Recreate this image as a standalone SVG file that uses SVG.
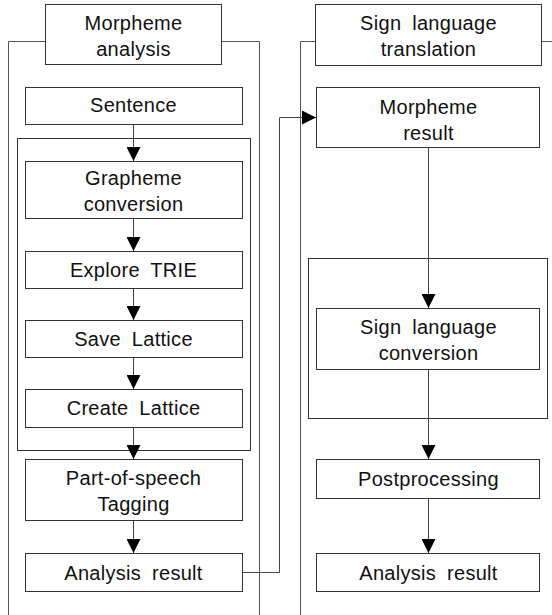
<svg xmlns="http://www.w3.org/2000/svg" width="552" height="615" viewBox="0 0 552 615">
<style>
.frame{fill:none;stroke:#555;stroke-width:1}
.box{fill:#fff;stroke:#333;stroke-width:1}
.grp{fill:none;stroke:#333;stroke-width:1}
.t{font-family:"Liberation Sans",Arial,sans-serif;font-size:20px;fill:#111;text-anchor:middle;letter-spacing:0.3px;word-spacing:5px}
.c{fill:none;stroke:#444;stroke-width:1}
</style>
<defs>
<marker id="ah" markerUnits="userSpaceOnUse" markerWidth="14" markerHeight="14" viewBox="0 0 14 14" refX="14" refY="7" orient="auto">
<path d="M0,0 L14,7 L0,14 Z" fill="#000"/>
</marker>
</defs>
<rect width="552" height="615" fill="#fff"/>
<g id="frames">
<path class="frame" d="M45.5,41.5 H8.5 V615 M221.5,41.5 H259.5 V615"/>
<path class="frame" d="M315.5,41.5 H300.5 V615 M541.5,41.5 H552"/>
<rect class="grp" x="17.5" y="138.5" width="233" height="312"/>
<rect class="grp" x="308.5" y="258.5" width="239" height="160"/>
</g>
<g id="connectors">
<line class="c" x1="133.5" y1="124" x2="133.5" y2="161" marker-end="url(#ah)"/>
<line class="c" x1="133.5" y1="218" x2="133.5" y2="251" marker-end="url(#ah)"/>
<line class="c" x1="133.5" y1="288" x2="133.5" y2="320" marker-end="url(#ah)"/>
<line class="c" x1="133.5" y1="357" x2="133.5" y2="389" marker-end="url(#ah)"/>
<line class="c" x1="133.5" y1="427" x2="133.5" y2="459" marker-end="url(#ah)"/>
<line class="c" x1="133.5" y1="520" x2="133.5" y2="553" marker-end="url(#ah)"/>
<polyline class="c" points="242,572.5 279.5,572.5 279.5,117.5 316,117.5" marker-end="url(#ah)"/>
<line class="c" x1="428.5" y1="147" x2="428.5" y2="308" marker-end="url(#ah)"/>
<line class="c" x1="428.5" y1="369" x2="428.5" y2="459" marker-end="url(#ah)"/>
<line class="c" x1="428.5" y1="498" x2="428.5" y2="553" marker-end="url(#ah)"/>
</g>
<g id="morpheme-analysis">
<rect class="box" x="45.5" y="4.5" width="176" height="60"/>
<text class="t" x="133.5" y="30">Morpheme</text>
<text class="t" x="133.5" y="56">analysis</text>
</g>
<g id="sentence">
<rect class="box" x="25.5" y="87.5" width="217" height="37"/>
<text class="t" x="133.5" y="112">Sentence</text>
</g>
<g id="grapheme-conversion">
<rect class="box" x="25.5" y="161.5" width="217" height="57"/>
<text class="t" x="133.5" y="185">Grapheme</text>
<text class="t" x="133.5" y="211">conversion</text>
</g>
<g id="explore-trie">
<rect class="box" x="25.5" y="251.5" width="217" height="37"/>
<text class="t" x="133.5" y="277">Explore TRIE</text>
</g>
<g id="save-lattice">
<rect class="box" x="25.5" y="320.5" width="217" height="37"/>
<text class="t" x="133.5" y="346">Save Lattice</text>
</g>
<g id="create-lattice">
<rect class="box" x="25.5" y="389.5" width="217" height="38"/>
<text class="t" x="133.5" y="415">Create Lattice</text>
</g>
<g id="pos-tagging">
<rect class="box" x="25.5" y="459.5" width="217" height="61"/>
<text class="t" x="133.5" y="485">Part-of-speech</text>
<text class="t" x="133.5" y="511">Tagging</text>
</g>
<g id="analysis-result-left">
<rect class="box" x="25.5" y="553.5" width="217" height="38"/>
<text class="t" x="133.5" y="580">Analysis result</text>
</g>
<g id="sign-language-translation">
<rect class="box" x="315.5" y="4.5" width="226" height="61"/>
<text class="t" x="428.5" y="30">Sign language</text>
<text class="t" x="428.5" y="56">translation</text>
</g>
<g id="morpheme-result">
<rect class="box" x="316.5" y="87.5" width="223" height="60"/>
<text class="t" x="428.5" y="114">Morpheme</text>
<text class="t" x="428.5" y="140">result</text>
</g>
<g id="sign-language-conversion">
<rect class="box" x="316.5" y="308.5" width="223" height="61"/>
<text class="t" x="428.5" y="334">Sign language</text>
<text class="t" x="428.5" y="360">conversion</text>
</g>
<g id="postprocessing">
<rect class="box" x="316.5" y="459.5" width="223" height="39"/>
<text class="t" x="428.5" y="486">Postprocessing</text>
</g>
<g id="analysis-result-right">
<rect class="box" x="316.5" y="553.5" width="223" height="38"/>
<text class="t" x="428.5" y="580">Analysis result</text>
</g>
</svg>
